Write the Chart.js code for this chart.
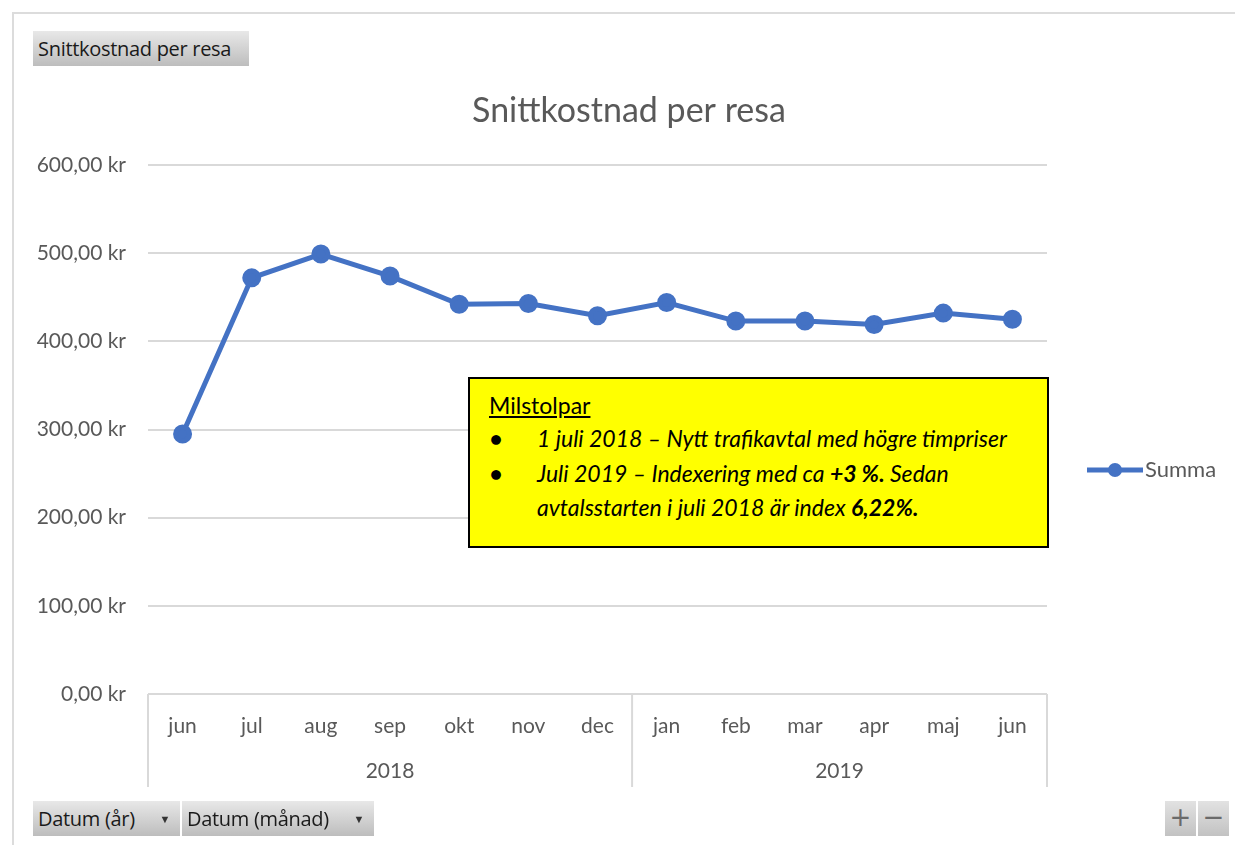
<!DOCTYPE html>
<html>
<head>
<meta charset="utf-8">
<script src="https://cdn.jsdelivr.net/npm/chart.js@4"></script>
<style>
    html, body { margin: 0; padding: 0; background: #fff; overflow: hidden; }
    #wrap { position: relative; width: 1235px; height: 845px; overflow: hidden; font-family: Lato, "Open Sans", sans-serif; }
    #frame { position: absolute; left: 12px; top: 12px; width: 1300px; height: 900px; border: 2px solid #dcdcdc; box-sizing: border-box; }
    #myChart { position: absolute; left: 0; top: 0; }
    .btn {
        position: absolute; height: 35px; line-height: 35px; font-size: 20px; color: #1a1a1a;
        background: linear-gradient(#e8e8e8, #bdbdbd); padding-left: 5px; box-sizing: border-box;
        font-family: "Open Sans", Lato, sans-serif; letter-spacing: -0.3px;
    }
    .arrow { position: absolute; right: 10px; top: 0; font-size: 11px; color: #333; }
    .pm { position: absolute; top: 801px; width: 31px; height: 35px; line-height: 33px; text-align: center; font-size: 26px; color: #6a6a6a; background: linear-gradient(#e2e2e2, #c2c2c2); font-family: "DejaVu Sans", sans-serif; }
    #note {
        position: absolute; left: 468px; top: 377px; width: 581px; height: 171px; box-sizing: border-box;
        background: #ffff00; border: 2px solid #000; font-size: 23px; color: #000;
    }
    #note .head { position: absolute; left: 19px; top: 12px; text-decoration: underline; }
    #note .line { position: absolute; left: 67px; font-style: italic; white-space: nowrap; }
    #note .dot { position: absolute; left: 20px; font-size: 20px; }
</style>
</head>
<body>
<div id="wrap">
    <div id="frame"></div>
    <canvas id="myChart" width="1235" height="845"></canvas>
    <div class="btn" style="left:33px; top:31px; width:216px;">Snittkostnad per resa</div>
    <div class="btn" style="left:33px; top:801px; width:147px;">Datum (år)<span class="arrow">&#9660;</span></div>
    <div class="btn" style="left:182px; top:801px; width:192px;">Datum (månad)<span class="arrow">&#9660;</span></div>
    <div class="pm" style="left:1165px;">+</div>
    <div class="pm" style="left:1198px;">&minus;</div>
    <div id="note">
        <div class="head">Milstolpar</div>
        <div class="dot" style="top:47px;">&#9679;</div>
        <div class="line" style="top:45px;">1 juli 2018 – Nytt trafikavtal med högre timpriser</div>
        <div class="dot" style="top:82px;">&#9679;</div>
        <div class="line" style="top:80px;">Juli 2019 – Indexering med ca <b>+3 %.</b> Sedan</div>
        <div class="line" style="top:114px;">avtalsstarten i juli 2018 är index <b>6,22%.</b></div>
    </div>
</div>
<script>
let months = ["jun", "jul", "aug", "sep", "okt", "nov", "dec", "jan", "feb", "mar", "apr", "maj", "jun"];
let years = ["2018", "2019"];
let yearCounts = [7, 6];
let summa = [295, 472, 499, 474, 442, 443, 429, 444, 423, 423, 419, 432, 425];
let seriesName = "Summa";
let chartTitle = "Snittkostnad per resa";

const grey = "#595959";
const lineGrey = "#d9d9d9";
const blue = "#4472C4";

// draws the title, the year row under the months, the box lines and the legend
const extras = {
    id: "extras",
    afterDraw(chart) {
        let ctx = chart.ctx;
        let x = chart.scales.x;
        let area = chart.chartArea;
        let bottom = area.bottom + 93;
        ctx.save();

        ctx.font = "34px Lato";
        ctx.fillStyle = grey;
        ctx.textAlign = "center";
        ctx.textBaseline = "middle";
        ctx.fillText(chartTitle, 629, 111);

        ctx.strokeStyle = lineGrey;
        ctx.lineWidth = 2;
        ctx.beginPath();
        ctx.moveTo(area.left, area.bottom);
        ctx.lineTo(area.right, area.bottom);
        ctx.stroke();

        let start = 0;
        let edges = [area.left];
        ctx.font = "21px Lato";
        years.forEach((y, i) => {
            let end = start + yearCounts[i] - 1;
            let mid = (x.getPixelForValue(start) + x.getPixelForValue(end)) / 2;
            ctx.fillText(y, mid, area.bottom + 77);
            if (i < years.length - 1) {
                edges.push((x.getPixelForValue(end) + x.getPixelForValue(end + 1)) / 2);
            }
            start = end + 1;
        });
        edges.push(area.right);
        edges.forEach(e => {
            ctx.beginPath();
            ctx.moveTo(e, area.bottom);
            ctx.lineTo(e, bottom);
            ctx.stroke();
        });

        // legend
        let ly = 470;
        ctx.strokeStyle = blue;
        ctx.lineWidth = 5;
        ctx.beginPath();
        ctx.moveTo(1087, ly);
        ctx.lineTo(1143, ly);
        ctx.stroke();
        ctx.fillStyle = blue;
        ctx.beginPath();
        ctx.arc(1115, ly, 7, 0, Math.PI * 2);
        ctx.fill();
        ctx.fillStyle = grey;
        ctx.textAlign = "left";
        ctx.font = "22px Lato";
        ctx.fillText(seriesName, 1145, ly);
        ctx.restore();
    }
};

let config = {
    type: "line",
    data: {
        labels: months,
        datasets: [
            {
                label: seriesName,
                data: summa,
                borderColor: blue,
                backgroundColor: blue,
                borderWidth: 5,
                pointRadius: 7,
                pointHoverRadius: 7,
                fill: false,
                tension: 0
            }
        ]
    },
    options: {
        responsive: false,
        animation: false,
        devicePixelRatio: 1,
        layout: {
            padding: { left: 0, right: 188, top: 165, bottom: 51 }
        },
        plugins: {
            legend: { display: false },
            tooltip: { enabled: false },
            title: { display: false }
        },
        scales: {
            x: {
                offset: true,
                grid: { display: false, drawTicks: false },
                border: { display: false },
                ticks: {
                    color: grey,
                    font: { family: "Lato", size: 21 },
                    padding: 20,
                    maxRotation: 0,
                    autoSkip: false
                },
                afterFit: s => { s.height = 100; }
            },
            y: {
                min: 0,
                max: 600,
                grid: { color: lineGrey, lineWidth: 2, drawTicks: false },
                border: { display: false },
                ticks: {
                    stepSize: 100,
                    color: grey,
                    font: { family: "Lato", size: 21 },
                    padding: 22,
                    callback: v => v.toFixed(2).replace(".", ",") + " kr"
                },
                afterFit: s => { s.width = 148; }
            }
        }
    },
    plugins: [extras]
};

let ctx = document.getElementById("myChart").getContext("2d");
let myChart = new Chart(ctx, config);
</script>
</body>
</html>
